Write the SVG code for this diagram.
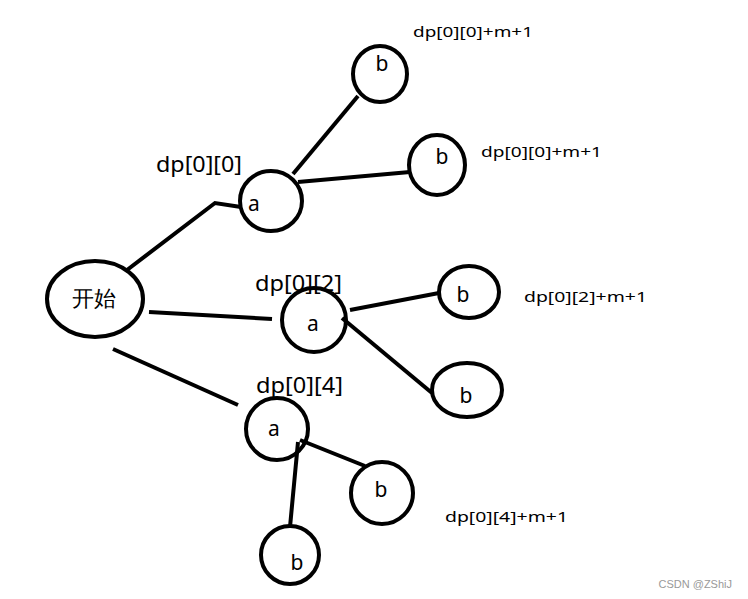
<svg xmlns="http://www.w3.org/2000/svg" width="748" height="599" viewBox="0 0 748 599">
<style>
.n{fill:none;stroke:#000;stroke-width:4}
.c{fill:none;stroke:#000;stroke-width:4;stroke-linecap:butt}
.t{font-family:"Noto Sans","Liberation Sans",sans-serif;fill:#000}
.lab{font-size:21px}
.sm{font-size:15px}
.big{font-size:22px}
</style>
<rect width="748" height="599" fill="#fff"/>
<g id="connectors">
<polyline class="c" points="127,270 215,203 241,207"/>
<line class="c" x1="293" y1="174" x2="358" y2="96"/>
<line class="c" x1="298" y1="182" x2="410" y2="172"/>
<line class="c" x1="149" y1="312" x2="272" y2="319"/>
<line class="c" x1="350" y1="310" x2="439" y2="293"/>
<line class="c" x1="342" y1="318" x2="432" y2="393"/>
<line class="c" x1="113" y1="349" x2="238" y2="405"/>
<line class="c" x1="300" y1="440" x2="365" y2="466"/>
<line class="c" x1="298" y1="442" x2="290" y2="527"/>
</g>
<g id="start">
<ellipse class="n" cx="95" cy="299" rx="48" ry="38"/>
<text class="t big" x="94" y="306" text-anchor="middle">开始</text>
</g>
<g id="a1">
<ellipse class="n" cx="271" cy="201" rx="31" ry="30"/>
<text class="t lab" x="254" y="211" text-anchor="middle">a</text>
<text class="t big" x="156" y="172" textLength="86" lengthAdjust="spacingAndGlyphs">dp[0][0]</text>
</g>
<g id="b1">
<ellipse class="n" cx="380" cy="74" rx="27" ry="28"/>
<text class="t lab" x="382" y="71" text-anchor="middle">b</text>
<text class="t sm" x="413" y="37" textLength="120" lengthAdjust="spacingAndGlyphs">dp[0][0]+m+1</text>
</g>
<g id="b2">
<ellipse class="n" cx="437" cy="165" rx="28" ry="30"/>
<text class="t lab" x="442" y="164" text-anchor="middle">b</text>
<text class="t sm" x="481" y="157" textLength="121" lengthAdjust="spacingAndGlyphs">dp[0][0]+m+1</text>
</g>
<g id="a2">
<ellipse class="n" cx="314" cy="320" rx="32" ry="32"/>
<text class="t lab" x="313" y="331" text-anchor="middle">a</text>
<text class="t big" x="255" y="291" textLength="87" lengthAdjust="spacingAndGlyphs">dp[0][2]</text>
</g>
<g id="b3">
<ellipse class="n" cx="469" cy="292" rx="30" ry="26"/>
<text class="t lab" x="463" y="302" text-anchor="middle">b</text>
<text class="t sm" x="524" y="302" textLength="123" lengthAdjust="spacingAndGlyphs">dp[0][2]+m+1</text>
</g>
<g id="b4">
<ellipse class="n" cx="467" cy="390" rx="35" ry="27"/>
<text class="t lab" x="466" y="403" text-anchor="middle">b</text>
</g>
<g id="a3">
<ellipse class="n" cx="277" cy="429" rx="31" ry="31"/>
<text class="t lab" x="274" y="436" text-anchor="middle">a</text>
<text class="t big" x="256" y="393" textLength="87" lengthAdjust="spacingAndGlyphs">dp[0][4]</text>
</g>
<g id="b5">
<ellipse class="n" cx="382" cy="493" rx="31" ry="31"/>
<text class="t lab" x="381" y="497" text-anchor="middle">b</text>
<text class="t sm" x="445" y="522" textLength="123" lengthAdjust="spacingAndGlyphs">dp[0][4]+m+1</text>
</g>
<g id="b6">
<ellipse class="n" cx="290" cy="555" rx="29" ry="29"/>
<text class="t lab" x="297" y="570" text-anchor="middle">b</text>
</g>
<text x="732" y="588" text-anchor="end" font-family="Liberation Sans, sans-serif" font-size="11" fill="#999">CSDN @ZShiJ</text>
</svg>
